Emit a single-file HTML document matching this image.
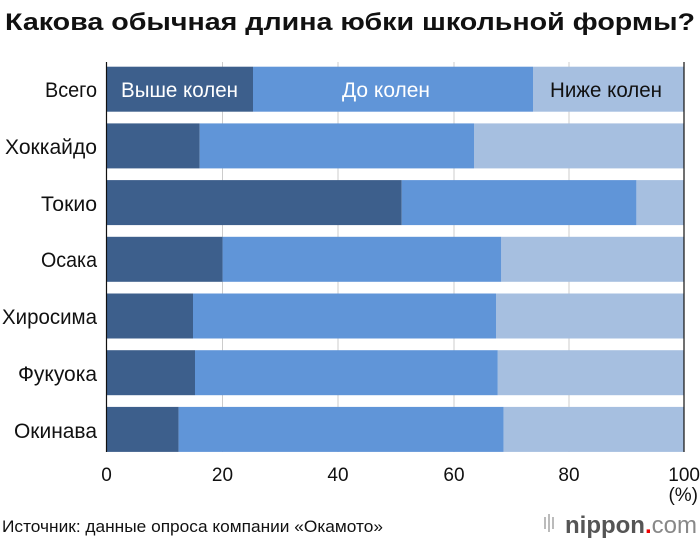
<!DOCTYPE html>
<html><head><meta charset="utf-8"><style>
html,body{margin:0;padding:0;background:#fff;}
svg{display:block;font-family:"Liberation Sans","DejaVu Sans",sans-serif;}
</style></head><body>
<svg width="700" height="547" viewBox="0 0 700 547" xmlns="http://www.w3.org/2000/svg">
<text x="5" y="30" font-size="24" font-weight="bold" fill="#111" textLength="690" lengthAdjust="spacingAndGlyphs">Какова обычная длина юбки школьной формы?</text>
<g stroke="#ccc" stroke-width="1">
<line x1="222.5" y1="62" x2="222.5" y2="452"/>
<line x1="338" y1="62" x2="338" y2="452"/>
<line x1="454" y1="62" x2="454" y2="452"/>
<line x1="569" y1="62" x2="569" y2="452"/>
</g>
<g>
<rect x="106.5" y="66.7" width="146.5" height="45" fill="#3d5f8c"/><rect x="253" y="66.7" width="280" height="45" fill="#6095d8"/><rect x="533" y="66.7" width="151" height="45" fill="#a6bfe0"/>
<rect x="106.5" y="123.4" width="93.2" height="45" fill="#3d5f8c"/><rect x="199.7" y="123.4" width="274.3" height="45" fill="#6095d8"/><rect x="474" y="123.4" width="210" height="45" fill="#a6bfe0"/>
<rect x="106.5" y="180.1" width="295.2" height="45" fill="#3d5f8c"/><rect x="401.7" y="180.1" width="234.7" height="45" fill="#6095d8"/><rect x="636.4" y="180.1" width="47.6" height="45" fill="#a6bfe0"/>
<rect x="106.5" y="236.8" width="116.1" height="45" fill="#3d5f8c"/><rect x="222.6" y="236.8" width="278.7" height="45" fill="#6095d8"/><rect x="501.3" y="236.8" width="182.7" height="45" fill="#a6bfe0"/>
<rect x="106.5" y="293.5" width="86.5" height="45" fill="#3d5f8c"/><rect x="193" y="293.5" width="303" height="45" fill="#6095d8"/><rect x="496" y="293.5" width="188" height="45" fill="#a6bfe0"/>
<rect x="106.5" y="350.2" width="88.5" height="45" fill="#3d5f8c"/><rect x="195" y="350.2" width="302.8" height="45" fill="#6095d8"/><rect x="497.8" y="350.2" width="186.2" height="45" fill="#a6bfe0"/>
<rect x="106.5" y="406.9" width="72.1" height="45" fill="#3d5f8c"/><rect x="178.6" y="406.9" width="325" height="45" fill="#6095d8"/><rect x="503.6" y="406.9" width="180.4" height="45" fill="#a6bfe0"/>
</g>
<line x1="106.5" y1="62" x2="106.5" y2="452" stroke="#111" stroke-width="1.2"/>
<line x1="684" y1="62" x2="684" y2="452" stroke="#111" stroke-width="1.2"/>
<g font-size="21" lengthAdjust="spacingAndGlyphs">
<text x="121" y="97" fill="#fff" textLength="117" lengthAdjust="spacingAndGlyphs">Выше колен</text>
<text x="342" y="97" fill="#fff" textLength="88" lengthAdjust="spacingAndGlyphs">До колен</text>
<text x="550" y="97" fill="#111" textLength="112" lengthAdjust="spacingAndGlyphs">Ниже колен</text>
</g>
<g font-size="21" fill="#111">
<text x="45" y="97" textLength="52" lengthAdjust="spacingAndGlyphs">Всего</text>
<text x="5" y="154" textLength="92" lengthAdjust="spacingAndGlyphs">Хоккайдо</text>
<text x="41" y="211" textLength="56" lengthAdjust="spacingAndGlyphs">Токио</text>
<text x="41" y="267" textLength="56" lengthAdjust="spacingAndGlyphs">Осака</text>
<text x="2" y="324" textLength="95" lengthAdjust="spacingAndGlyphs">Хиросима</text>
<text x="18" y="381" textLength="79" lengthAdjust="spacingAndGlyphs">Фукуока</text>
<text x="14" y="438" textLength="83" lengthAdjust="spacingAndGlyphs">Окинава</text>
</g>
<g font-size="19" fill="#111" text-anchor="middle">
<text x="106.5" y="481">0</text>
<text x="222.5" y="481">20</text>
<text x="338" y="481">40</text>
<text x="454" y="481">60</text>
<text x="569" y="481">80</text>
<text x="700" y="481" text-anchor="end">100</text>
<text x="698" y="501" text-anchor="end">(%)</text>
</g>
<text x="2" y="532" font-size="17" fill="#111" textLength="381" lengthAdjust="spacingAndGlyphs">Источник: данные опроса компании «Окамото»</text>
<g fill="#bbb"><rect x="544" y="517" width="2" height="12"/><rect x="548" y="514" width="2" height="18"/><rect x="552" y="517" width="2" height="12"/></g>
<text x="565" y="533" font-size="24" fill="#555" font-weight="bold">nippon<tspan fill="#e00">.</tspan><tspan fill="#888" font-weight="normal">com</tspan></text>
</svg>
</body></html>
